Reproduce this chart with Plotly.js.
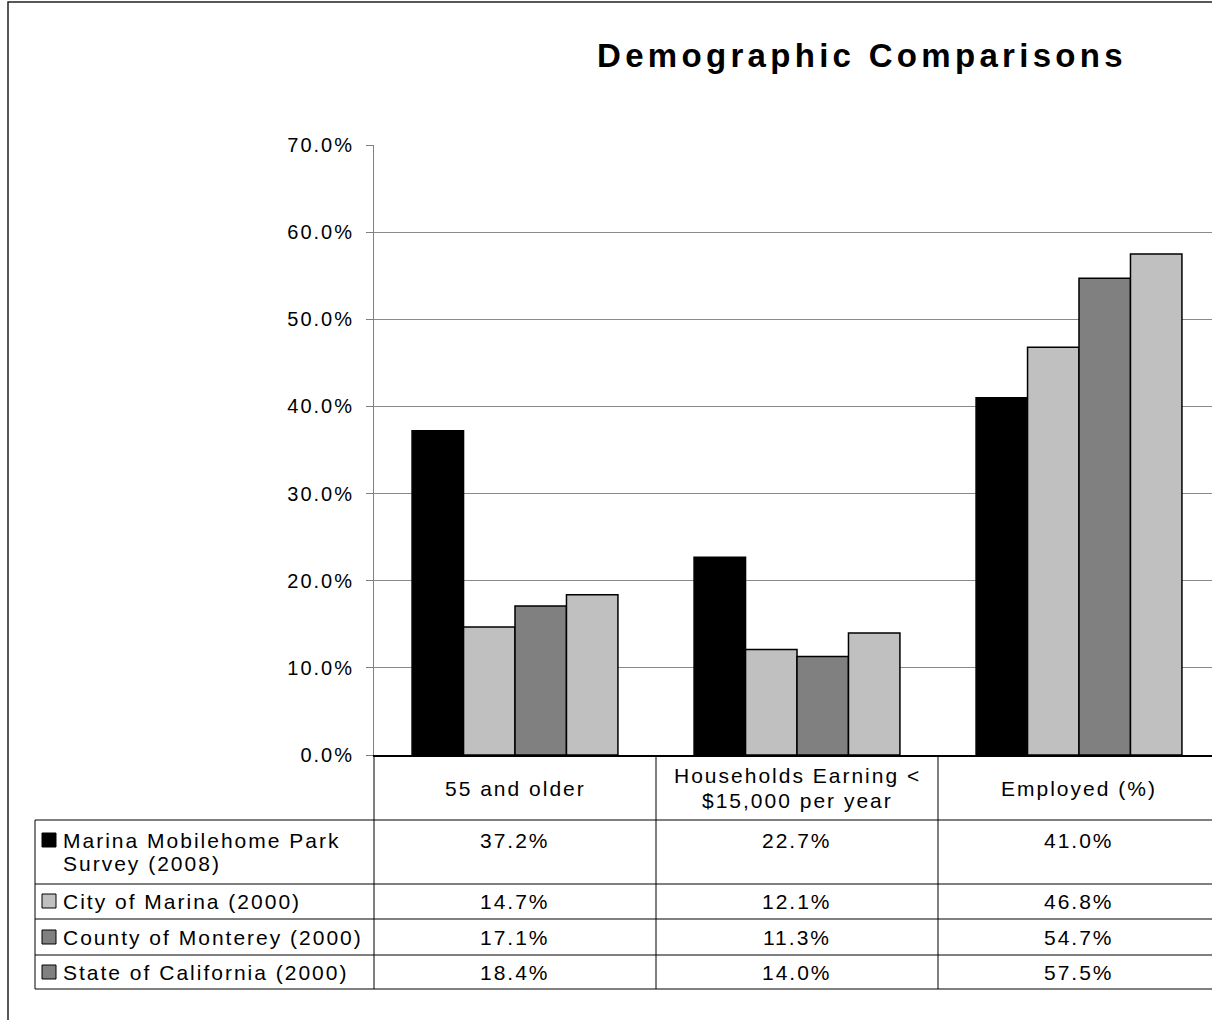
<!DOCTYPE html>
<html>
<head>
<meta charset="utf-8">
<script src="https://cdn.plot.ly/plotly-3.0.1.min.js"></script>
<style>
  html, body { margin: 0; padding: 0; overflow: hidden; background: #fff; }
  #chart { width: 1260px; height: 1020px; }
  .main-svg text { letter-spacing: 2px; }
  .main-svg .gtitle { letter-spacing: 4.3px !important; }
</style>
</head>
<body>
<div id="chart"></div>
<script>
// ---- data ----
const categories = ['55 and older', 'Households Earning < $15,000 per year', 'Employed (%)'];
const categoryLabels = [['55 and older'], ['Households Earning &lt;', '$15,000 per year'], ['Employed (%)']];
const seriesNames = ['Marina Mobilehome Park Survey (2008)', 'City of Marina (2000)', 'County of Monterey (2000)', 'State of California (2000)'];
const seriesLabels = [['Marina Mobilehome Park', 'Survey (2008)'], ['City of Marina (2000)'], ['County of Monterey (2000)'], ['State of California (2000)']];
const marinaSurvey2008 = [37.2, 22.7, 41.0];
const cityOfMarina2000 = [14.7, 12.1, 46.8];
const countyOfMonterey2000 = [17.1, 11.3, 54.7];
const stateOfCalifornia2000 = [18.4, 14.0, 57.5];
const seriesValues = [marinaSurvey2008, cityOfMarina2000, countyOfMonterey2000, stateOfCalifornia2000];
const yTickValues = [0, 10, 20, 30, 40, 50, 60, 70];
const yTickText = ['0.0%', '10.0%', '20.0%', '30.0%', '40.0%', '50.0%', '60.0%', '70.0%'];

// ---- styles ----
const barColors = ['#000000', '#C0C0C0', '#808080', '#C0C0C0'];
const keyColors = ['#000000', '#C0C0C0', '#808080', '#808080'];
const FONT = 'Liberation Sans, Arial, sans-serif';
const W = 1260, H = 1020;
const L = 374, R = 40, T = 145, B = 265;
const PW = W - L - R, PH = H - T - B;
const xp = px => (px - L) / PW;
const yp = py => (H - B - py) / PH;

const traces = seriesValues.map((vals, i) => ({
  type: 'bar',
  name: seriesNames[i],
  x: categories,
  y: vals,
  marker: { color: barColors[i], line: { color: '#000000', width: 1.5 } },
  hoverinfo: 'skip'
}));

const shapes = [];
const annotations = [];
const lineStyle = { color: '#000000', width: 1 };

// outer chart border
shapes.push({ type: 'rect', xref: 'paper', yref: 'paper', x0: xp(8), x1: xp(1400), y0: yp(2), y1: yp(1200),
  line: { color: '#222222', width: 1.5 }, fillcolor: 'rgba(0,0,0,0)', layer: 'below' });

// data table grid
const rowLines = [820, 884, 919, 955, 989];
rowLines.forEach(py => shapes.push({ type: 'line', xref: 'paper', yref: 'paper', x0: xp(35), x1: xp(1220), y0: yp(py), y1: yp(py), line: lineStyle }));
[374, 656, 938, 1220].forEach(px => shapes.push({ type: 'line', xref: 'paper', yref: 'paper', x0: xp(px), x1: xp(px), y0: yp(755), y1: yp(989), line: lineStyle }));
shapes.push({ type: 'line', xref: 'paper', yref: 'paper', x0: xp(35), x1: xp(35), y0: yp(820), y1: yp(989), line: lineStyle });

// header labels
const tableFont = { family: FONT, size: 21, color: '#000000' };
categoryLabels.forEach((lines, c) => {
  const startY = 788 - (lines.length - 1) * 12.5;
  lines.forEach((ln, k) => annotations.push({
    xref: 'x', yref: 'paper', x: c, y: yp(startY + k * 25),
    text: ln, showarrow: false,
    xanchor: 'center', yanchor: 'middle', align: 'center', font: tableFont
  }));
});

// rows
const valueY = [840, 901, 937, 972];
seriesValues.forEach((vals, i) => {
  vals.forEach((v, c) => annotations.push({
    xref: 'x', yref: 'paper', x: c, y: yp(valueY[i]), text: v.toFixed(1) + '%', showarrow: false,
    xanchor: 'center', yanchor: 'middle', font: tableFont
  }));
  seriesLabels[i].forEach((ln, k) => annotations.push({
    xref: 'paper', yref: 'paper', x: xp(61), y: yp(valueY[i] + k * 23), text: ln, showarrow: false,
    xanchor: 'left', yanchor: 'middle', align: 'left', font: tableFont
  }));
  shapes.push({ type: 'rect', xref: 'paper', yref: 'paper', x0: xp(42), x1: xp(56), y0: yp(valueY[i] - 7), y1: yp(valueY[i] + 7),
    fillcolor: keyColors[i], line: { color: '#000000', width: 1 } });
});

const layout = {
  width: W, height: H,
  margin: { l: L, r: R, t: T, b: B, pad: 0 },
  paper_bgcolor: '#ffffff', plot_bgcolor: '#ffffff',
  showlegend: false,
  barmode: 'group', bargap: 0.27, bargroupgap: 0,
  title: { text: '<b>Demographic Comparisons</b>', xref: 'container', yref: 'container',
    x: 862 / W, y: 1 - 55 / H, xanchor: 'center', yanchor: 'middle',
    font: { family: FONT, size: 33, color: '#000000' } },
  xaxis: { type: 'category', showticklabels: false, ticks: '', showgrid: false, zeroline: false,
    showline: true, linecolor: '#000000', linewidth: 1.5, fixedrange: true },
  yaxis: { range: [0, 70], tickmode: 'array', tickvals: yTickValues, ticktext: yTickText,
    showgrid: true, gridcolor: '#8a8a8a', gridwidth: 1, zeroline: false,
    showline: true, linecolor: '#808080', linewidth: 1,
    ticks: 'outside', ticklen: 7, tickcolor: '#808080', ticklabelstandoff: 8,
    tickfont: { family: FONT, size: 20, color: '#000000' }, fixedrange: true },
  shapes: shapes,
  annotations: annotations,
  font: { family: FONT, color: '#000000' }
};

Plotly.newPlot('chart', traces, layout, { displayModeBar: false, staticPlot: true });
</script>
</body>
</html>
